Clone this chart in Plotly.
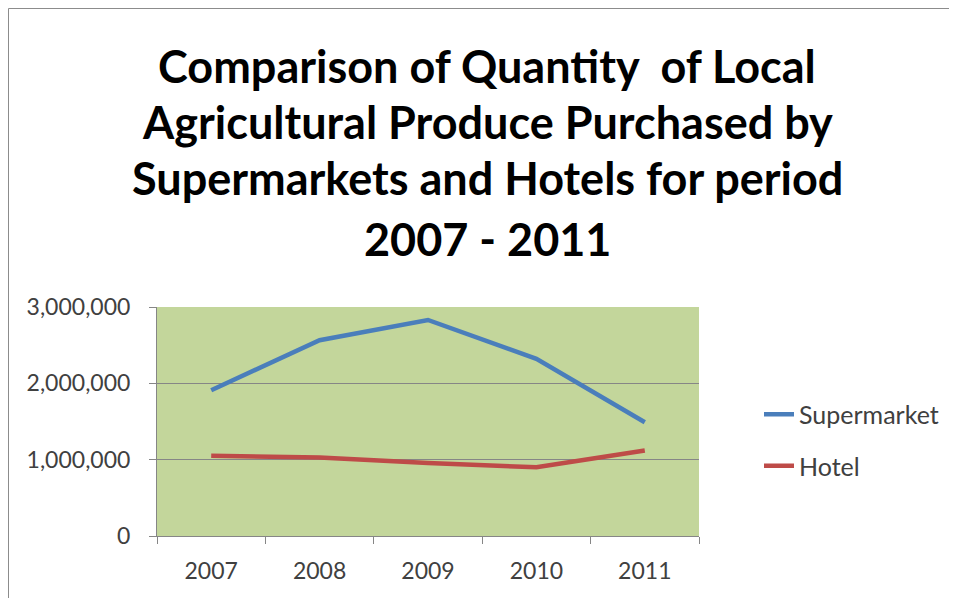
import plotly.graph_objects as go

years = ["2007", "2008", "2009", "2010", "2011"]
supermarket = [1910000, 2565000, 2830000, 2320000, 1490000]
hotel = [1050000, 1030000, 957000, 900000, 1120000]

title_lines = [
    "Comparison of Quantity  of Local",
    "Agricultural Produce Purchased by",
    "Supermarkets and Hotels for period",
    "2007 - 2011",
]
title_centers = [66, 122, 178, 239]  # page pixel rows of each title line

# the page body has an 8px margin, so figure pixels = page pixels - 8
W, H = 949, 590
L, R, T, B = 149, 691, 299, 528
pw, ph = R - L, B - T

fig = go.Figure()
fig.add_trace(go.Scatter(x=years, y=supermarket, mode="lines", name="Supermarket",
                         line=dict(color="#4a7ebb", width=4.5), legendgroup="a"))
fig.add_trace(go.Scatter(x=years, y=hotel, mode="lines", name="Hotel",
                         line=dict(color="#be4b48", width=4.5), legendgroup="b"))

for txt, cy in zip(title_lines, title_centers):
    fig.add_annotation(text=txt, xref="paper", yref="paper",
                       x=(487 - 8 - L) / pw, y=(B - (cy - 8)) / ph,
                       xanchor="center", yanchor="middle", showarrow=False,
                       font=dict(family="Lato", size=45, color="black", weight="bold"))

fig.update_layout(
    width=W, height=H,
    margin=dict(l=L, r=W - R, t=T, b=H - B),
    paper_bgcolor="white",
    plot_bgcolor="#c3d69b",
    font=dict(family="Lato", size=23, color="#404040"),
    legend=dict(x=(759 - 8 - L) / pw, y=(B - 432) / ph, xanchor="left", yanchor="middle",
                font=dict(size=25, color="#404040"), tracegroupgap=16,
                bgcolor="rgba(0,0,0,0)"),
    showlegend=True,
)
fig.update_xaxes(type="category", range=[-0.5, 4.5], tickson="boundaries",
                 ticks="outside", ticklen=7, tickcolor="#868686", showline=True,
                 linecolor="#868686", showgrid=False, ticklabelstandoff=14,
                 tickfont=dict(size=23, color="#404040"))
fig.update_yaxes(range=[0, 3000000], dtick=1000000, tickformat=",", ticks="outside",
                 ticklen=7, tickcolor="#868686", showline=True, linecolor="#868686",
                 gridcolor="#868686", gridwidth=1, zeroline=False, ticklabelstandoff=14,
                 tickfont=dict(size=23, color="#404040"))

# thin frame around the chart
fig.add_shape(type="rect", xref="paper", yref="paper",
              x0=(0.5 - L) / pw, x1=(944 - L) / pw, y0=(B - 620) / ph, y1=(B - 0.5) / ph,
              line=dict(color="#8c8c8c", width=1), layer="below")

fig.write_html("out.html")
